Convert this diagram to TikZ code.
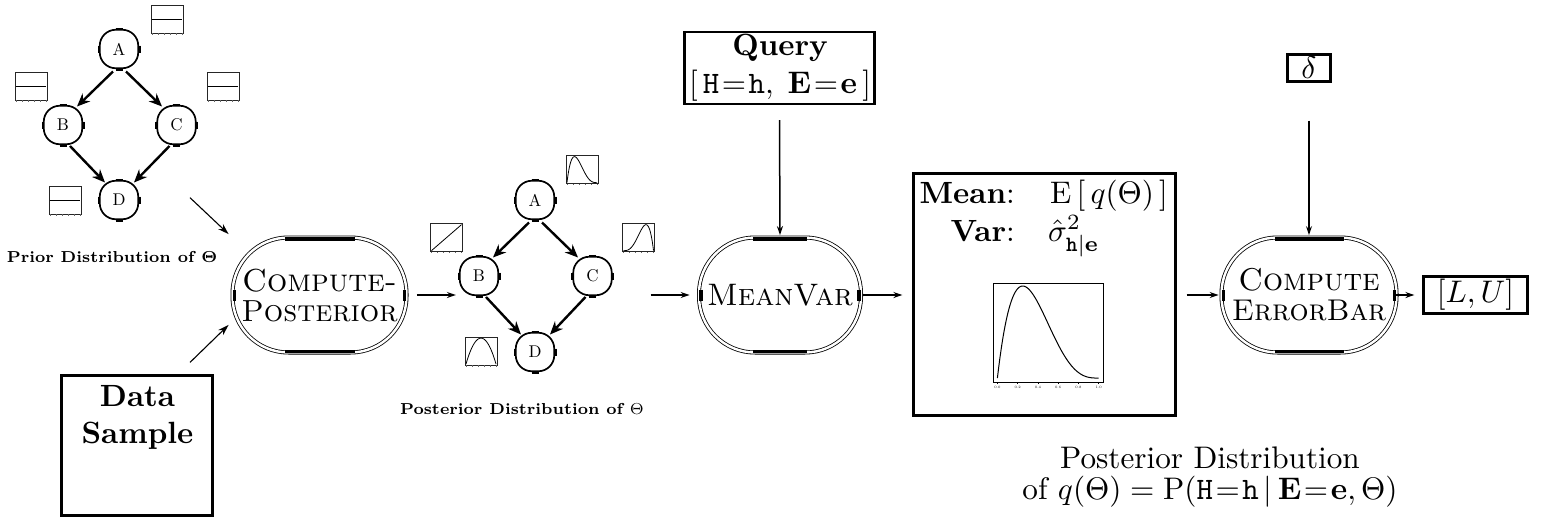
\documentclass[tikz,border=0pt]{standalone}
\usepackage{fix-cm}
\usepackage{amsmath}
\usepackage{graphicx}
\usetikzlibrary{arrows.meta,calc}
\newcommand{\tenpt}{\fontsize{10}{12}\selectfont}
\newcommand{\Br}[1]{\scalebox{3.12}{\tenpt #1}}
\newcommand{\Bb}[1]{\scalebox{3.07}{\tenpt\bfseries #1}}
\newcommand{\Bc}[2]{\scalebox{#1}{\tenpt\scshape #2}}
\newcommand{\Bn}[1]{\scalebox{1.7}{\tenpt #1}}
\newcommand{\Bl}[1]{\scalebox{2.27}{\fontsize{7}{8}\selectfont\bfseries #1}}
\tikzset{
  bnnode/.style={draw,line width=1.7pt,rounded corners=16pt,minimum width=38.5pt,minimum height=38.5pt,inner sep=0pt},
  bntick/.style={line width=2.8pt},
  bnedge/.style={line width=2.4pt,-{Stealth[length=13pt,width=11pt]}},
  flow/.style={line width=1.5pt,-{Stealth[length=9pt,width=6pt]}},
  thinflow/.style={line width=1.1pt,-{Stealth[length=11pt,width=7pt]}},
  oval/.style={draw,line width=.8pt,double,double distance=2.4pt,rounded corners=56pt,minimum height=115pt,inner sep=0pt,align=center,font=\fontsize{30}{30}\selectfont},
  ovaltick/.style={line width=3.6pt},
  frame/.style={draw,line width=2.2pt,inner sep=0pt},
  txt/.style={inner sep=0pt,anchor=base},
  mini/.style={line width=.9pt},
}
\newcommand{\miniplot}[3]{%
  \begin{scope}[shift={(#1,#2)},x=32pt,y=-28pt]
    \draw[mini,black!85] (0,0) rectangle (1,1);
    \foreach \t in {.03,.218,.406,.594,.782,.97} \draw[line width=.5pt,black!60] (\t,1) -- (\t,1.07);
    \draw[line width=.8pt] plot[smooth,samples=40,domain=0:1] ({.03+.94*\x},{.97-.93*(#3)});
  \end{scope}}
\newcommand{\ovalticks}[3]{%
  \draw[ovaltick] ($(#1.north)+(#2,1.6)$) -- ($(#1.north)+(#3,1.6)$);
  \draw[ovaltick] ($(#1.south)+(#2,-1.6)$) -- ($(#1.south)+(#3,-1.6)$);
  \draw[ovaltick] ($(#1.west)+(2.5,-5.5)$) -- ($(#1.west)+(2.5,5.5)$);
  \draw[ovaltick] ($(#1.east)+(-2.5,-5.5)$) -- ($(#1.east)+(-2.5,5.5)$);}
\begin{document}
\begin{tikzpicture}[x=1pt,y=-1pt]
\useasboundingbox (0,0) rectangle (1543,517);
% prior network
\node[bnnode] (A1) at (119,49) {\Bn{A}};
\node[bnnode] (B1) at (63,125) {\Bn{B}};
\node[bnnode] (C1) at (176.5,125) {\Bn{C}};
\node[bnnode] (D1) at (119,200) {\Bn{D}};
% posterior network
\node[bnnode] (A2) at (535,200) {\Bn{A}};
\node[bnnode] (B2) at (479,276) {\Bn{B}};
\node[bnnode] (C2) at (592.5,276) {\Bn{C}};
\node[bnnode] (D2) at (535,352) {\Bn{D}};
\foreach \n in {A1,B1,C1,D1,A2,B2,C2,D2}{
  \draw[bntick] ($(\n.north)+(-3.5,0)$) -- ($(\n.north)+(3.5,0)$);
  \draw[bntick] ($(\n.south)+(-3.5,0)$) -- ($(\n.south)+(3.5,0)$);
  \draw[bntick] ($(\n.west)+(0,-3.5)$) -- ($(\n.west)+(0,3.5)$);
  \draw[bntick] ($(\n.east)+(0,-3.5)$) -- ($(\n.east)+(0,3.5)$);
}
\foreach \n in {1,2}{
  \draw[bnedge] ($(A\n)+(-6,22.5)$) -- ($(B\n)+(14,-18.5)$);
  \draw[bnedge] ($(A\n)+(7,22.5)$) -- ($(C\n)+(-14.5,-18.5)$);
  \draw[bnedge] ($(B\n)+(7,21)$) -- ($(D\n)+(-14,-17.5)$);
  \draw[bnedge] ($(C\n)+(-7,21)$) -- ($(D\n)+(15,-17.5)$);
}
\miniplot{151}{5}{.5}
\miniplot{15}{72}{.5}
\miniplot{207}{72}{.5}
\miniplot{49}{186}{.5}
\miniplot{566}{155.5}{\x*(1-\x)^3/.1055}
\miniplot{430.5}{223.5}{\x}
\miniplot{622.5}{223.5}{\x^3*(1-\x)/.1055}
\miniplot{465}{337}{4*\x*(1-\x)}
\node[txt] (priorlabel) at (112,262) {\Bl{Prior Distribution of $\boldsymbol{\Theta}$}};
\node[txt] (postlabel) at (522,414) {\Bl{Posterior Distribution of $\Theta$}};
% inference ovals
\node[oval,minimum width=174pt] (CP) at (319.5,295) {\Bc{3.18}{Compute-}\\\Bc{3.05}{Posterior}};
\node[oval,minimum width=162pt] (MV) at (780,295) {\Bc{3.11}{MeanVar}};
\node[oval,minimum width=175pt] (CE) at (1309,295) {\Bc{3.15}{Compute}\\\Bc{3.0}{ErrorBar}};
\ovalticks{CP}{-35}{35}
\ovalticks{MV}{-27}{27}
\ovalticks{CE}{-34.5}{34.5}
% boxes
\node[frame,minimum width=190pt,minimum height=72pt] (Q) at (779.5,68) {};
\node[txt] (qt) at (780,55) {\Bb{Query}};
\node[txt] (qf) at (780,93) {\Br{$[\,\texttt{H}\mkern1.5mu{=}\mkern1.5mu\texttt{h},\;\mathbf{E}\mkern1.5mu{=}\mkern1.5mu\mathbf{e}\,]$}};
\node[frame,minimum width=151pt,minimum height=140pt] (DS) at (137,445.5) {};
\node[txt] (dt1) at (137.5,406) {\Bb{Data}};
\node[txt] (dt2) at (137.5,443) {\Bb{Sample}};
\node[frame,minimum width=262pt,minimum height=242pt] (R) at (1044.5,294.5) {};
\node[txt,anchor=base east] (m1) at (1015,203) {\Bb{Mean}\Br{:}};
\node[txt,anchor=base east] (m2) at (1015,241) {\Bb{Var}\Br{:}};
\node[txt,anchor=base west] (e1) at (1050,203) {\Br{$\mathrm{E}\,[\,q(\Theta)\,]$}};
\node[txt,anchor=base west] (e2) at (1048,241) {\Br{$\hat{\sigma}^2_{\texttt{\bfseries h}|\mathbf{e}}$}};
\begin{scope}[shift={(993,283)},x=110pt,y=-99pt]
  \draw[line width=.8pt] (0,0) rectangle (1,1);
  \draw[line width=1pt] plot[smooth,samples=80,domain=0:1] ({.04+.92*\x},{.96-.93*\x*(1-\x)^3/.1055});
  \foreach \t/\l in {.04/0.0,.224/0.2,.408/0.4,.592/0.6,.776/0.8,.96/1.0}{
    \draw[line width=.3pt] (\t,1) -- (\t,1.02);
    \node[inner sep=0pt,font=\fontsize{3.5}{4}\selectfont] at (\t,1.05) {\l};
  }
\end{scope}
\node[frame,minimum width=43pt,minimum height=27pt] (del) at (1309,68) {\Br{$\delta$}};
\node[frame,minimum width=104pt,minimum height=37pt] (LU) at (1475.5,295) {\Br{$[L,U]$}};
\node[txt] (c1) at (1210,468) {\Br{Posterior Distribution}};
\node[txt] (c2) at (1210,499) {\Br{of $q(\Theta)=\mathrm{P}(\texttt{H}\mkern1.5mu{=}\mkern1.5mu\texttt{h}\,|\,\mathbf{E}\mkern1.5mu{=}\mkern1.5mu\mathbf{e},\Theta)$}};
% connectors
\draw[thinflow] ($(priorlabel.north)+(78,-53)$) -- ($(CP.north west)+(-3.5,-3)$);
\draw[thinflow] ($(DS.north)+(53,-12)$) -- ($(CP.south west)+(-3.5,-28)$);
\draw[flow] ($(CP.east)+(10,0)$) -- ($(CP.east)+(49,0)$);
\draw[flow] ($(MV.west)+(-48,0)$) -- ($(MV.west)+(-9,0)$);
\draw[flow] ($(MV.east)+(2,0)$) -- ($(MV.east)+(41,0)$);
\draw[flow] ($(CE.west)+(-34.5,0)$) -- ($(CE.west)+(-2.5,0)$);
\draw[flow] ($(CE.east)+(-1,0)$) -- ($(LU.west)+(-8,0)$);
\draw[flow] ($(Q.south)+(0,15)$) -- ($(MV.north)+(0,-2)$);
\draw[flow] ($(del.south)+(0,38)$) -- ($(CE.north)+(0,-2)$);
\end{tikzpicture}
\end{document}
